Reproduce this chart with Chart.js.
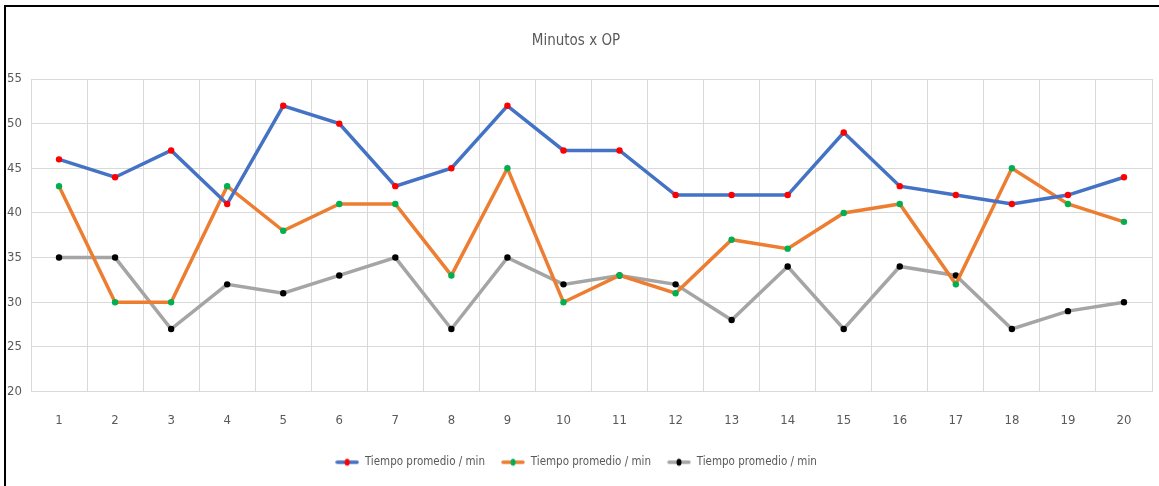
<!DOCTYPE html>
<html>
<head>
<meta charset="utf-8">
<script src="https://cdn.jsdelivr.net/npm/chart.js@4"></script>
<style>
  body { margin: 0; background: #fff; }
  #wrap { position: relative; width: 1159px; height: 486px; }
  #frame { position: absolute; left: 4px; top: 5px; right: 0; bottom: 0;
           border-top: 2px solid #000; border-left: 2px solid #000; pointer-events: none; }
</style>
</head>
<body>
<div id="wrap">
  <canvas id="chart" width="1159" height="486"></canvas>
  <div id="frame"></div>
</div>
<script>
// DATA
const categories = ["1","2","3","4","5","6","7","8","9","10","11","12","13","14","15","16","17","18","19","20"];
const seriesNames = ["Tiempo promedio / min", "Tiempo promedio / min", "Tiempo promedio / min"];
const serieA = [46, 44, 47, 41, 52, 50, 43, 45, 52, 47, 47, 42, 42, 42, 49, 43, 42, 41, 42, 44];
const serieB = [43, 30, 30, 43, 38, 41, 41, 33, 45, 30, 33, 31, 37, 36, 40, 41, 32, 45, 41, 39];
const serieC = [35, 35, 27, 32, 31, 33, 35, 27, 35, 32, 33, 32, 28, 34, 27, 34, 33, 27, 29, 30];
const yMin = 20, yMax = 55, yStep = 5;

const lineColors = ["#4472c4", "#ed7d31", "#a5a5a5"];
const dotColors = ["#ff0000", "#00b050", "#000000"];
const FONT = "'Liberation Sans Narrow', 'DejaVu Sans Condensed', sans-serif";
const TXT = "#595959";

// legend marker: line with a dot in the middle
function legendMark(lc, dc) {
    const c = document.createElement("canvas");
    c.width = 24; c.height = 10;
    const g = c.getContext("2d");
    g.strokeStyle = lc; g.lineWidth = 3.5; g.lineCap = "round";
    g.beginPath(); g.moveTo(2, 5); g.lineTo(22, 5); g.stroke();
    g.fillStyle = dc;
    g.beginPath(); g.ellipse(12, 5, 2.5, 3.5, 0, 0, Math.PI * 2); g.fill();
    return c;
}

function makeSet(i, data) {
    return {
        label: seriesNames[i],
        data: data,
        borderColor: lineColors[i],
        backgroundColor: dotColors[i],
        borderWidth: 3.5,
        pointRadius: 3.2,
        pointBorderWidth: 0,
        pointBackgroundColor: dotColors[i],
        pointBorderColor: dotColors[i],
        tension: 0,
        fill: false
    };
}

new Chart(document.getElementById("chart"), {
    type: "line",
    data: {
        labels: categories,
        datasets: [makeSet(0, serieA), makeSet(1, serieB), makeSet(2, serieC)]
    },
    options: {
        responsive: false,
        animation: false,
        layout: { padding: { left: 0, right: 7, top: 24, bottom: 8 } },
        plugins: {
            title: {
                display: true,
                text: "Minutos x OP",
                color: TXT,
                font: { family: FONT, size: 15, weight: "normal" },
                padding: { top: 8, bottom: 29 }
            },
            legend: {
                position: "bottom",
                labels: {
                    color: TXT,
                    font: { family: FONT, size: 11.5 },
                    usePointStyle: true,
                    pointStyleWidth: 24,
                    padding: 16,
                    generateLabels: chart => chart.data.datasets.map((ds, i) => ({
                        text: ds.label,
                        fontColor: TXT,
                        pointStyle: legendMark(lineColors[i], dotColors[i]),
                        datasetIndex: i,
                        hidden: false,
                        lineWidth: 0
                    }))
                }
            },
            tooltip: { enabled: false }
        },
        scales: {
            x: {
                offset: true,
                grid: { offset: true, color: "#d9d9d9", drawTicks: false },
                border: { color: "#d9d9d9" },
                ticks: { color: TXT, font: { family: FONT, size: 13 }, padding: 21, maxRotation: 0 },
                afterFit: s => { s.height = 49; }
            },
            y: {
                min: yMin, max: yMax,
                grid: { color: "#d9d9d9", drawTicks: false },
                border: { display: false },
                ticks: { stepSize: yStep, color: TXT, font: { family: FONT, size: 13 }, padding: 9 },
                afterFit: s => { s.width = 31; }
            }
        }
    }
});
</script>
</body>
</html>
